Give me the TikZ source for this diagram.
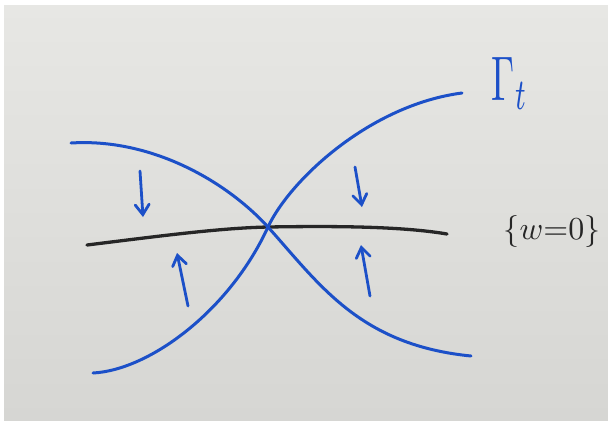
\documentclass[tikz,border=0pt]{standalone}
\usetikzlibrary{arrows.meta}
\definecolor{penblue}{RGB}{28,80,200}
\definecolor{marker}{RGB}{38,38,38}
\definecolor{paperTop}{RGB}{231,231,228}
\definecolor{paperBot}{RGB}{214,214,211}
\tikzset{
  bluecurve/.style={draw=penblue, line width=3pt, line cap=round, line join=round},
  blackline/.style={draw=marker, line width=3.3pt, line cap=round, line join=round},
  flowarrow/.style={draw=penblue, line width=2.8pt, line cap=round,
    -{Straight Barb[length=10pt,width=14pt,line cap=round]}},
  bluetext/.style={text=penblue, inner sep=0pt, anchor=base west},
  blacktext/.style={text=marker, inner sep=0pt, anchor=base west}
}
\begin{document}
\begin{tikzpicture}[x=1pt,y=-1pt]
\useasboundingbox (0,0) rectangle (608,424);
\fill[white] (0,0) rectangle (608,424);
\shade[top color=paperTop, bottom color=paperBot] (4,5) rectangle (608,420);

% the saddle point
\coordinate (cross) at (268,227);

% level set {w=0}
\coordinate (wl) at (87,245);
\coordinate (wr) at (447,234);
\draw[blackline] (wl) .. controls (160,236) and (220,228) .. (cross)
  .. controls (330,226) and (400,226) .. (wr);

% Gamma_t : two branches crossing at the saddle
\coordinate (g1s) at (71,143);
\coordinate (g1e) at (471,356);
\coordinate (g2s) at (93,373);
\coordinate (g2e) at (462,93);
\draw[bluecurve] (g1s) .. controls (150,138) and (225,180) .. (cross)
  .. controls (320,285) and (360,345) .. (g1e);
\draw[bluecurve] (g2s) .. controls (150,370) and (230,310) .. (cross)
  .. controls (290,180) and (370,105) .. (g2e);

% arrows pointing toward {w=0}
\coordinate (a1t) at (140,171); \coordinate (a1h) at (143,217);
\coordinate (a2t) at (355,167); \coordinate (a2h) at (362,207);
\coordinate (a3t) at (188,306); \coordinate (a3h) at (177,253);
\coordinate (a4t) at (370,296); \coordinate (a4h) at (361,245);
\draw[flowarrow] (a1t) -- (a1h);
\draw[flowarrow] (a2t) -- (a2h);
\draw[flowarrow] (a3t) -- (a3h);
\draw[flowarrow] (a4t) -- (a4h);

% labels
\node[bluetext, xscale=3.7, yscale=6.3] (gamma) at (491,100) {$\Gamma_{t}$};
\node[blacktext, scale=3.2] (wzero) at (503,239) {$\{w{=}0\}$};
\end{tikzpicture}
\end{document}
